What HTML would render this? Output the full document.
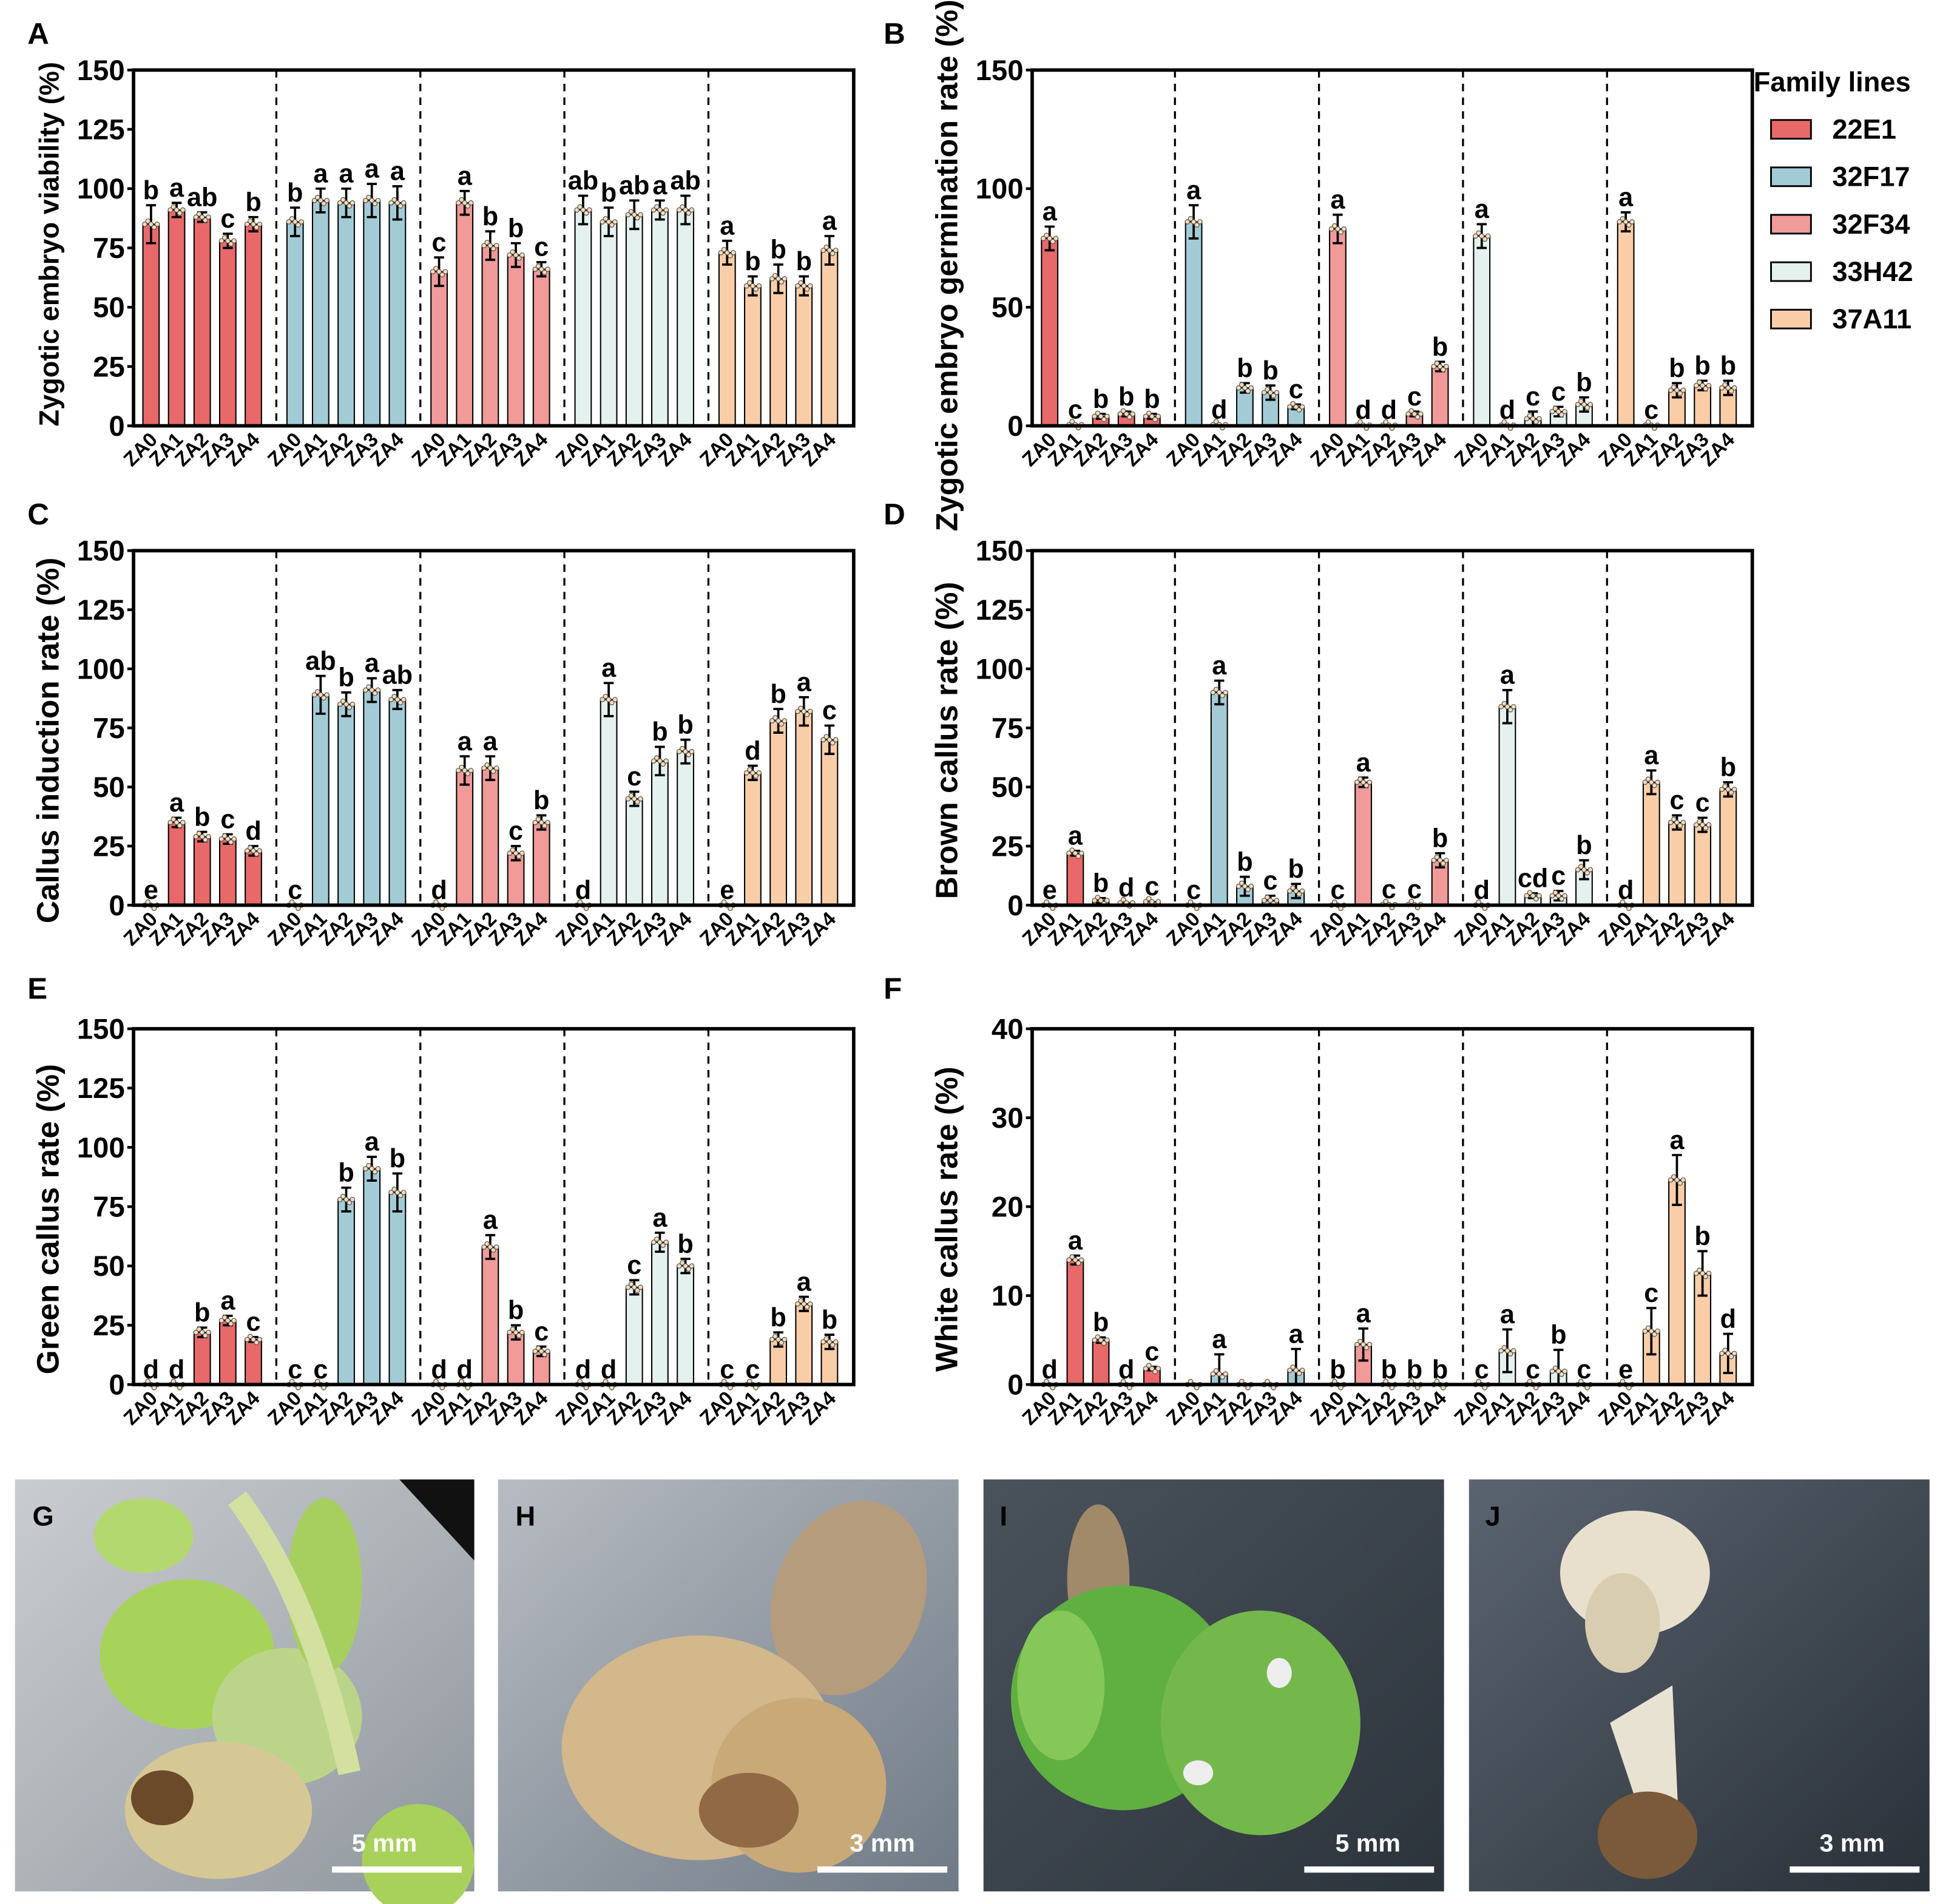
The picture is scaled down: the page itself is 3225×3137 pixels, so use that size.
<!DOCTYPE html>
<html><head><meta charset="utf-8">
<style>
html,body{margin:0;padding:0;background:#fff;}
svg{display:block;font-family:"Liberation Sans",Arial,sans-serif;}
</style></head>
<body>
<svg id="fig" xmlns="http://www.w3.org/2000/svg" width="3225" height="3137" viewBox="0 0 1568 1525">
<defs>
<linearGradient id="gG" x1="0" y1="0" x2="1" y2="1"><stop offset="0" stop-color="#c9ccd0"/><stop offset="0.5" stop-color="#aeb3b8"/><stop offset="1" stop-color="#8e959c"/></linearGradient>
<linearGradient id="gH" x1="0" y1="0" x2="1" y2="1"><stop offset="0" stop-color="#b8bcc2"/><stop offset="1" stop-color="#6f7a86"/></linearGradient>
<linearGradient id="gI" x1="0" y1="0" x2="1" y2="1"><stop offset="0" stop-color="#4a525c"/><stop offset="1" stop-color="#2c333b"/></linearGradient>
<linearGradient id="gJ" x1="0" y1="0" x2="1" y2="1"><stop offset="0" stop-color="#5a6470"/><stop offset="1" stop-color="#2a3038"/></linearGradient>
</defs>
<g id="charts"></g>
<g id="legend">
<text x="1405" y="73" font-size="22" font-weight="bold">Family lines</text>
</g>
<g id="photos">
<g>
<rect x="12" y="1185" width="368" height="330" fill="url(#gG)"/>
<polygon points="320,1185 380,1185 380,1250" fill="#111"/>
<ellipse cx="150" cy="1325" rx="70" ry="60" fill="#a8d35a"/>
<ellipse cx="115" cy="1230" rx="40" ry="30" fill="#b4d870"/>
<ellipse cx="230" cy="1375" rx="60" ry="55" fill="#bcd48a"/>
<ellipse cx="260" cy="1270" rx="30" ry="70" fill="#a6cf60"/>
<path d="M190,1200 Q250,1280 280,1420" stroke="#d3e0a0" stroke-width="18" fill="none"/>
<ellipse cx="175" cy="1450" rx="75" ry="55" fill="#d6c894"/>
<ellipse cx="130" cy="1440" rx="25" ry="22" fill="#6b4a2a"/>
<ellipse cx="335" cy="1490" rx="45" ry="45" fill="#a7d15a"/>
<text x="26" y="1222" font-size="22" font-weight="bold" fill="#000">G</text>
<text x="308" y="1483" font-size="20" font-weight="bold" fill="#fff" text-anchor="middle">5 mm</text>
<rect x="266" y="1495" width="104" height="5" fill="#fff"/>
</g>
<g>
<rect x="399" y="1185" width="369" height="330" fill="url(#gH)"/>
<ellipse cx="680" cy="1280" rx="60" ry="80" fill="#b59c7c" transform="rotate(20 680 1280)"/>
<ellipse cx="560" cy="1400" rx="110" ry="90" fill="#d2b88a"/>
<ellipse cx="640" cy="1430" rx="70" ry="70" fill="#c9a978"/>
<ellipse cx="600" cy="1450" rx="40" ry="30" fill="#8f6a45"/>
<text x="413" y="1222" font-size="22" font-weight="bold" fill="#000">H</text>
<text x="707" y="1483" font-size="20" font-weight="bold" fill="#fff" text-anchor="middle">3 mm</text>
<rect x="655" y="1495" width="104" height="5" fill="#fff"/>
</g>
<g>
<rect x="788" y="1185" width="369" height="330" fill="url(#gI)"/>
<ellipse cx="880" cy="1265" rx="25" ry="60" fill="#a08a6a"/>
<ellipse cx="900" cy="1360" rx="90" ry="90" fill="#5fb040"/>
<ellipse cx="1010" cy="1380" rx="80" ry="90" fill="#74b84c"/>
<ellipse cx="850" cy="1350" rx="35" ry="60" fill="#86c75a"/>
<ellipse cx="1025" cy="1340" rx="10" ry="12" fill="#eee"/>
<ellipse cx="960" cy="1420" rx="12" ry="10" fill="#eee"/>
<text x="801" y="1222" font-size="22" font-weight="bold" fill="#000">I</text>
<text x="1096" y="1483" font-size="20" font-weight="bold" fill="#fff" text-anchor="middle">5 mm</text>
<rect x="1045" y="1495" width="104" height="5" fill="#fff"/>
</g>
<g>
<rect x="1177" y="1185" width="369" height="330" fill="url(#gJ)"/>
<ellipse cx="1310" cy="1260" rx="60" ry="50" fill="#e8e0cc"/>
<ellipse cx="1300" cy="1300" rx="30" ry="40" fill="#d8cdb0"/>
<polygon points="1290,1380 1340,1350 1345,1460 1310,1440" fill="#e8e2d2"/>
<ellipse cx="1320" cy="1470" rx="40" ry="35" fill="#7a5a3a"/>
<text x="1190" y="1222" font-size="22" font-weight="bold" fill="#000">J</text>
<text x="1484" y="1483" font-size="20" font-weight="bold" fill="#fff" text-anchor="middle">3 mm</text>
<rect x="1434" y="1495" width="104" height="5" fill="#fff"/>
</g>
</g>
</svg>
<script>
const families = ["22E1","32F17","32F34","33H42","37A11"];
const familyColors = ["#e8696a","#a3cbd6","#f09a9a","#e4f1ee","#f8cda8"];
const treatments = ["ZA0","ZA1","ZA2","ZA3","ZA4"];

const aValues = [85,91,88,78,85, 86,95,94,95,94, 65,94,76,72,66, 91,86,89,91,91, 73,59,62,59,74];
const aErrors = [8,3,2,3,3, 6,5,6,7,7, 6,5,6,5,3, 6,6,6,4,6, 5,4,6,4,6];
const aLetters = ["b","a","ab","c","b","b","a","a","a","a","c","a","b","b","c","ab","b","ab","a","ab","a","b","b","b","a"];
const aTicks = [0,25,50,75,100,125,150];

const bValues = [79,0.5,4,5,4, 86,0.5,16,14,8, 83,0.3,0.3,5,25, 80,0.3,3,6,9, 86,0.3,15,17,16];
const bErrors = [5,0,1,1,1, 7,0,2,3,1, 6,0,0,1,2, 5,0,3,2,3, 4,0,3,2,3];
const bLetters = ["a","c","b","b","b","a","d","b","b","c","a","d","d","c","b","a","d","c","c","b","a","c","b","b","b"];
const bTicks = [0,50,100,150];

const cValues = [0,35,29,28,23, 0,89,85,91,87, 0,57,58,22,35, 0,87,45,61,65, 0,56,78,82,70];
const cErrors = [0,2,2,2,2, 0,8,5,5,4, 0,6,5,3,3, 0,7,3,6,5, 0,3,5,6,6];
const cLetters = ["e","a","b","c","d","c","ab","b","a","ab","d","a","a","c","b","d","a","c","b","b","e","d","b","a","c"];
const cTicks = [0,25,50,75,100,125,150];

const dValues = [0,22,2,1,1.5, 0,90,8,2,6, 0,52,0.3,0.3,19, 0,84,4,4,15, 0,52,35,34,49];
const dErrors = [0,1,1,0,0, 0,5,4,2,3, 0,2,0,0,3, 0,7,1,2,4, 0,5,3,3,3];
const dLetters = ["e","a","b","d","c","c","a","b","c","b","c","a","c","c","b","d","a","cd","c","b","d","a","c","c","b"];
const dTicks = [0,25,50,75,100,125,150];

const eValues = [0,0,22,27,19, 0,0,78,91,81, 0,0,58,22,14, 0,0,41,60,50, 0,0,19,34,18];
const eErrors = [0,0,2,2,1, 0,0,5,5,8, 0,0,5,3,2, 0,0,3,4,3, 0,0,3,3,3];
const eLetters = ["d","d","b","a","c","c","c","b","a","b","d","d","a","b","c","d","d","c","a","b","c","c","b","a","b"];
const eTicks = [0,25,50,75,100,125,150];

const fValues = [0,14,5,0,1.8, 0,1.2,0,0,1.6, 0,4.5,0,0,0, 0,3.8,0,1.5,0, 0,6,23,12.5,3.5];
const fErrors = [0,0.5,0.3,0,0.2, 0,2.2,0,0,2.4, 0,1.8,0,0,0, 0,2.4,0,2.4,0, 0,2.6,2.8,2.5,2.2];
const fLetters = ["d","a","b","d","c","","a","","","a","b","a","b","b","b","c","a","c","b","c","e","c","a","b","d"];
const fTicks = [0,10,20,30,40];

const NS = "http://www.w3.org/2000/svg";
function mk(tag, attrs, parent){
  const e = document.createElementNS(NS, tag);
  for (const k in attrs) e.setAttribute(k, attrs[k]);
  if (parent) parent.appendChild(e);
  return e;
}
const root = document.getElementById("charts");

function drawPanel(id, left, top, bottom, ymax, ticks, values, errors, letters, title, titleSize, titleDy, label, labelX, labelY){
  const g = mk("g", {}, root);
  
  
  const yScale = v => bottom - (v / ymax) * (bottom - top);
  const pitch = 577 / 5;
  const xScale = (grp, i) => left + 14 + grp * pitch + i * 20.5;

  for (let k = 1; k < 5; k++) {
    const x = left + k * pitch - 1;
    const dl = mk("line", {x1:x, y1:top, x2:x, y2:bottom, stroke:"#000", "stroke-width":1.6, "stroke-dasharray":"6,5"}, g);
    
    
  }
  for (let i = 0; i < values.length; i++) {
    const grp = Math.floor(i / 5), t = i % 5;
    const cx = xScale(grp, t);
    const y = yScale(values[i]);
    const bar = mk("rect", {x:cx - 6.5, y:y, width:13, height:Math.max(bottom - y, 0.01), fill:familyColors[grp], stroke:"#000", "stroke-width":1}, g);
    
    
    const ey1 = yScale(values[i] + errors[i]), ey0 = yScale(Math.max(values[i] - errors[i], 0));
    if (errors[i] > 0) {
      const eb = mk("path", {d:`M${cx},${ey0}V${ey1}M${cx-4},${ey1}H${cx+4}M${cx-4},${ey0}H${cx+4}`, stroke:"#000", "stroke-width":1.8, fill:"none"}, g);
      
      
    }
    for (let d = -2; d <= 2; d++) {
      const dot = mk("circle", {cx:cx + d * 2.5, cy:y + (d % 2) * 2.5, r:1.8, fill:"#f9dcb8", stroke:"#555", "stroke-width":0.6}, g);
      
      
    }
    if (letters[i]) {
      const lt = mk("text", {x:cx, y:ey1 - 5, "text-anchor":"middle", "font-size":21, "font-weight":"bold"}, g);
      lt.textContent = letters[i];
      
      
    }
    const xl = mk("text", {x:0, y:0, "text-anchor":"end", "font-size":16, "font-weight":"bold", transform:`translate(${cx+6},${bottom+12}) rotate(-45)`}, g);
    xl.textContent = treatments[t];
    
    
  }
  const fr = mk("rect", {x:left, y:top, width:577, height:bottom - top, fill:"none", stroke:"#000", "stroke-width":2.8}, g);
  
  
  for (const tv of ticks) {
    const y = yScale(tv);
    const tk = mk("line", {x1:left - 5, y1:y, x2:left, y2:y, stroke:"#000", "stroke-width":2.2}, g);
    
    
    const tl = mk("text", {x:left - 7, y:y + 8, "text-anchor":"end", "font-size":23, "font-weight":"bold"}, g);
    tl.textContent = tv;
    
    
  }
  const yt = mk("text", {x:0, y:0, "text-anchor":"middle", "font-size":titleSize, "font-weight":"bold", transform:`translate(${left - 60},${(top + bottom) / 2 + titleDy}) rotate(-90)`}, g);
  yt.textContent = title;
  
  
  const pl = mk("text", {x:labelX, y:labelY, "font-size":24, "font-weight":"bold"}, g);
  pl.textContent = label;
  
  
}

drawPanel("a", 107, 56, 341, 150, aTicks, aValues, aErrors, aLetters, "Zygotic embryo viability (%)", 22, -3, "A", 22, 35);
drawPanel("b", 827, 56, 341, 150, bTicks, bValues, bErrors, bLetters, "Zygotic embryo germination rate (%)", 24.5, 14, "B", 708, 35);
drawPanel("c", 107, 441, 725, 150, cTicks, cValues, cErrors, cLetters, "Callus induction rate (%)", 25, 10, "C", 22, 420);
drawPanel("d", 827, 441, 725, 150, dTicks, dValues, dErrors, dLetters, "Brown callus rate (%)", 25, 10, "D", 708, 420);
drawPanel("e", 107, 824, 1109, 150, eTicks, eValues, eErrors, eLetters, "Green callus  rate (%)", 25, 10, "E", 22, 800);
drawPanel("f", 827, 824, 1109, 40, fTicks, fValues, fErrors, fLetters, "White callus rate (%)", 25, 10, "F", 708, 800);

const leg = document.getElementById("legend");
for (let k = 0; k < families.length; k++) {
  const y = 96 + k * 38;
  const sw = mk("rect", {x:1419, y:y, width:32, height:15, fill:familyColors[k], stroke:"#000", "stroke-width":1.4}, leg);
  
  
  const lt = mk("text", {x:1468, y:y + 15, "font-size":22, "font-weight":"bold"}, leg);
  lt.textContent = families[k];
  
  
}
</script>
</body></html>
